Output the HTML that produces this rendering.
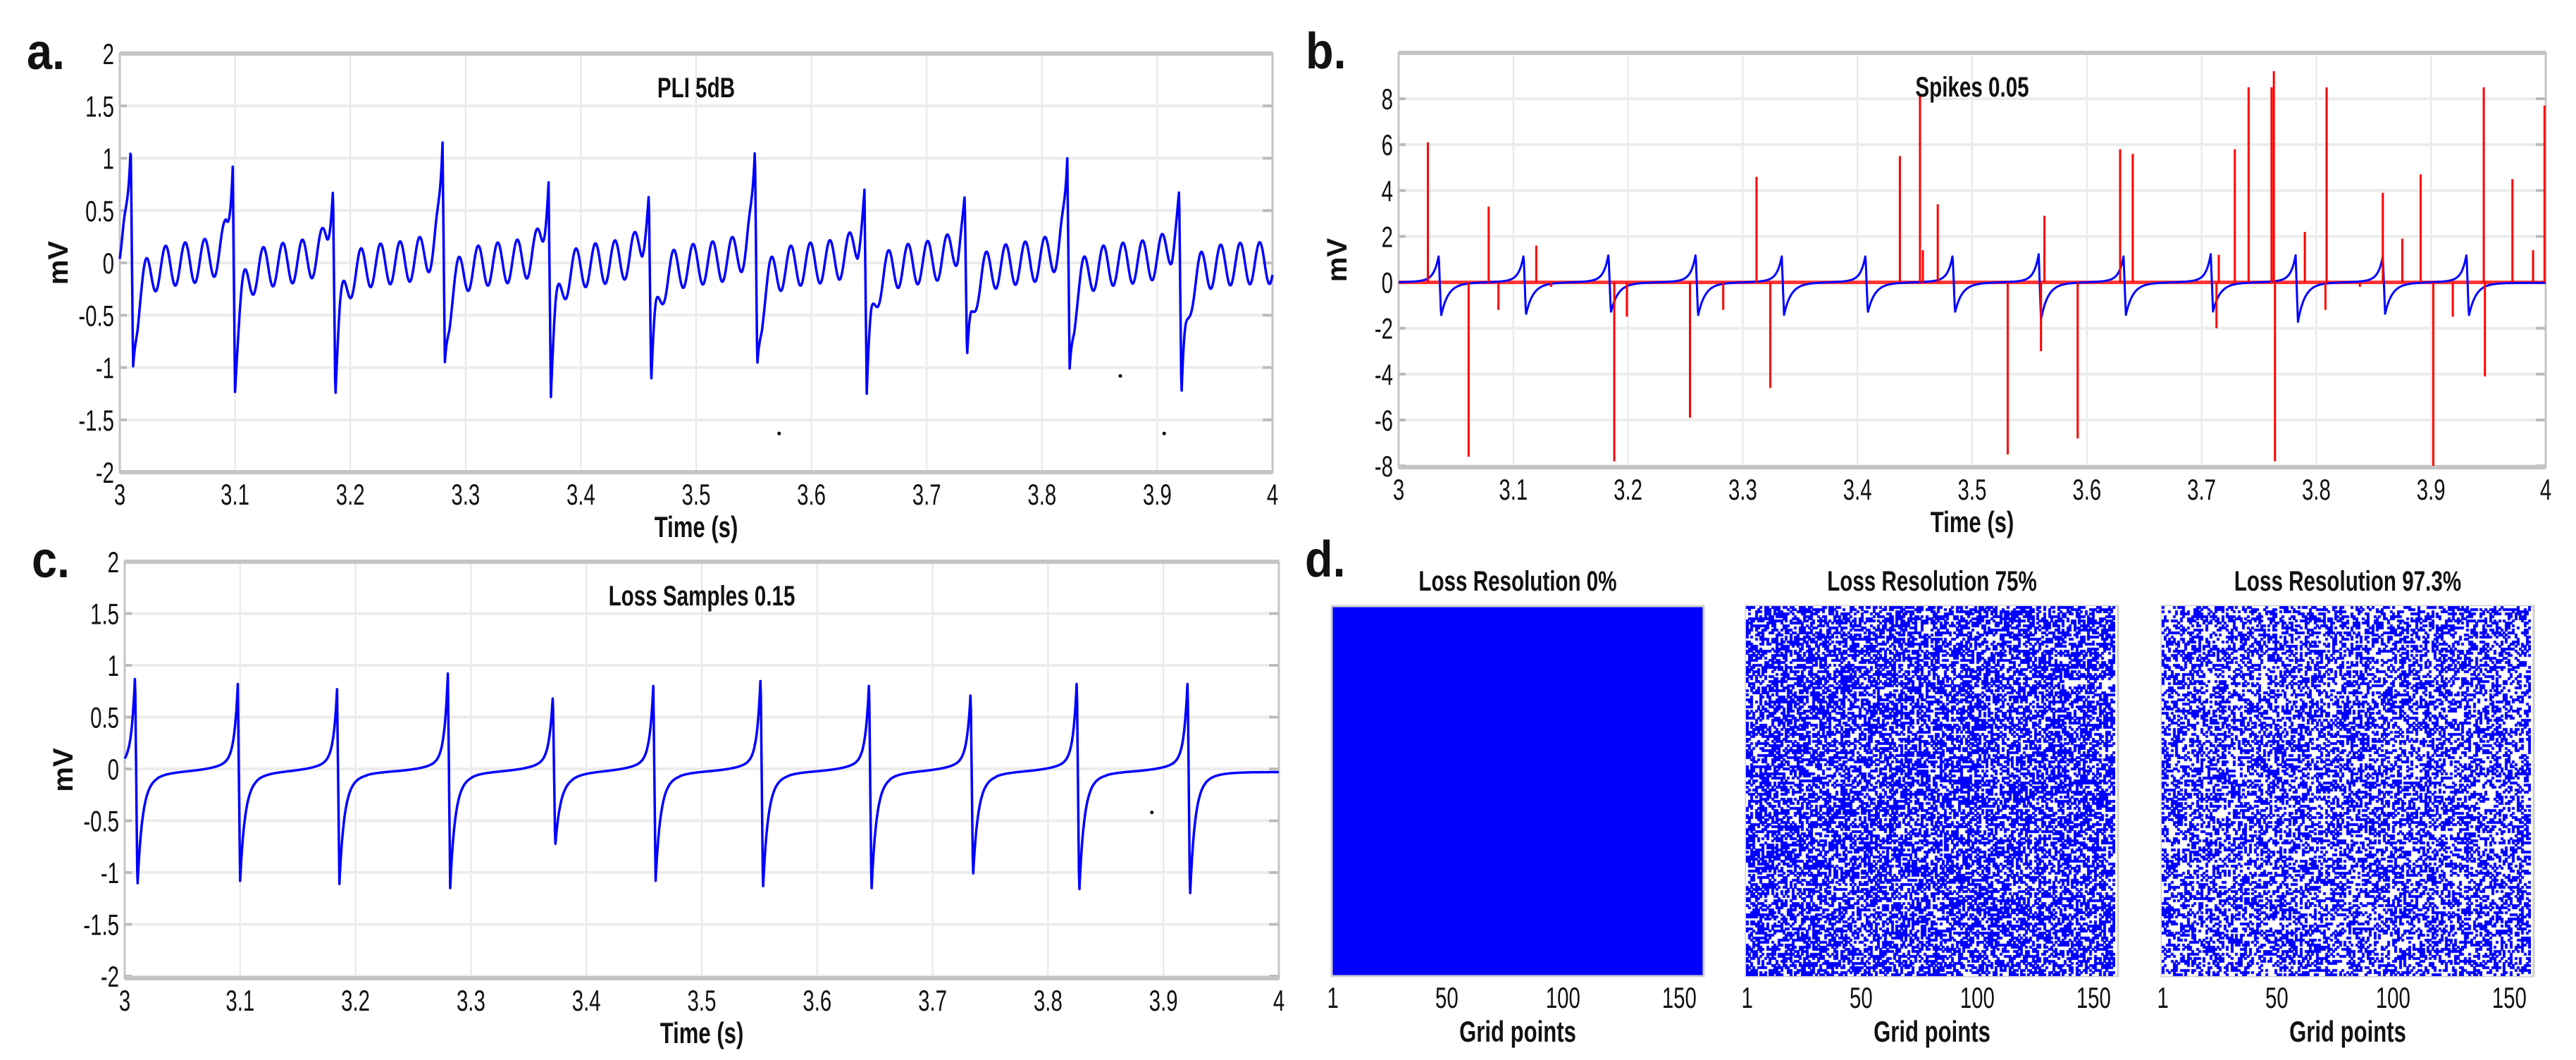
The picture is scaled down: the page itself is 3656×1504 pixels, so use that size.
<!DOCTYPE html>
<html><head><meta charset="utf-8"><style>
html,body{margin:0;padding:0;background:#fff;}
#root{position:relative;width:3656px;height:1504px;overflow:hidden;background:#fff;}
svg{position:absolute;left:0;top:0;}
canvas{position:absolute;}
</style></head><body>
<div id="root">
<svg id="sv" width="3656" height="1504" font-family="Liberation Sans, Arial, sans-serif"></svg>
<canvas id="hm2" width="524" height="525" style="left:2478px;top:860px"></canvas>
<canvas id="hm3" width="524" height="525" style="left:3068px;top:860px"></canvas>
</div>
<script>
// ---- data ----
const xTicks = [3,3.1,3.2,3.3,3.4,3.5,3.6,3.7,3.8,3.9,4];
const yTicksAC = [-2,-1.5,-1,-0.5,0,0.5,1,1.5,2];
const yTicksB = [-8,-6,-4,-2,0,2,4,6,8];
const beatsA = [3.0095,3.098,3.185,3.280,3.372,3.459,3.551,3.646,3.733,3.822,3.919];
const peaksA = [1.13,0.92,0.71,1.15,0.77,0.66,1.1,0.7,0.65,1.0,0.7];
const troughsA = [-0.97,-1.17,-1.27,-0.93,-1.27,-1.2,-0.97,-1.3,-0.97,-1.0,-1.35];
const pliAmp = 0.2, pliHz = 59;
const beatsB = [3.035,3.109,3.183,3.259,3.334,3.407,3.483,3.558,3.632,3.708,3.782,3.858,3.931];
const peaksB = [1.2,1.2,1.25,1.25,1.15,1.2,1.2,1.25,1.15,1.25,1.2,1.15,1.25];
const troughsB = [-1.45,-1.4,-1.3,-1.45,-1.4,-1.3,-1.3,-1.6,-1.4,-1.25,-1.7,-1.35,-1.45];
const spikeT = [3.0255,3.0785,3.120,3.312,3.437,3.4545,3.457,3.470,3.563,3.629,3.640,3.715,3.729,3.741,3.761,3.763,3.790,3.809,3.858,3.875,3.891,3.946,3.971,3.989,3.999,
 3.061,3.087,3.133,3.188,3.199,3.254,3.283,3.324,3.531,3.560,3.592,3.713,3.764,3.808,3.838,3.902,3.919,3.947];
const spikeV = [6.1,3.3,1.6,4.6,5.5,8.1,1.4,3.4,2.9,5.8,5.6,1.2,5.8,8.5,8.5,9.2,2.2,8.5,3.9,1.9,4.7,8.5,4.5,1.4,7.7,
 -7.6,-1.2,-0.2,-7.8,-1.5,-5.9,-1.2,-4.6,-7.5,-3.0,-6.8,-2.0,-7.8,-1.2,-0.2,-8.0,-1.5,-4.1];
const beatsC = [3.009,3.098,3.184,3.280,3.371,3.458,3.551,3.645,3.733,3.825,3.921];
const peaksC = [0.95,0.85,0.8,0.95,0.75,0.83,0.93,0.88,0.78,0.9,0.9];
const troughsC = [-1.12,-1.05,-1.08,-1.12,-0.72,-1.05,-1.15,-1.17,-1.02,-1.18,-1.22];
const gridTicks = [1,50,100,150];
const blueFraction = [1.0,0.55,0.43];
const panelTitles = ["Loss  Resolution 0%","Loss  Resolution 75%","Loss  Resolution 97.3%"];

const NS="http://www.w3.org/2000/svg";
const sv=document.getElementById('sv');
function mk(tag,attrs,parent){const e=document.createElementNS(NS,tag);for(const k in attrs)e.setAttribute(k,attrs[k]);(parent||sv).appendChild(e);return e;}
function txt(x,y,s,size,anchor,bold,name,rot,sc){
  const g=mk('g',{transform:`translate(${x},${y})`+(rot?` rotate(${rot})`:'')+` scale(${sc||0.74},1)`});
  const t=mk('text',{x:0,y:0,'font-size':size,'text-anchor':anchor||'middle','font-weight':bold?'bold':'normal',fill:'#111'},g);
  t.textContent=s;
  
  
  return t;
}
function panel(P){
  const sx=v=>P.x0+(v-P.xmin)/(P.xmax-P.xmin)*(P.x1-P.x0);
  const sy=v=>P.y1-(v-P.ymin)/(P.ymax-P.ymin)*(P.y1-P.y0);
  const g=mk('g',{});
  
  
  P.xt.forEach(v=>{mk('line',{x1:sx(v),x2:sx(v),y1:P.y0,y2:P.y1,stroke:'#e6e6e6','stroke-width':2},g);
    txt(sx(v),P.y1+46,String(v),42,'middle',false,'x-tick-label',0,0.7);});
  P.yt.forEach(v=>{mk('line',{x1:P.x0,x2:P.x1,y1:sy(v),y2:sy(v),stroke:'#ececec','stroke-width':4},g);
    mk('line',{x1:P.x1-14,x2:P.x1,y1:sy(v),y2:sy(v),stroke:'#bbb','stroke-width':4},g);
    mk('line',{x1:P.x0,x2:P.x0+10,y1:sy(v),y2:sy(v),stroke:'#bbb','stroke-width':4},g);
    txt(P.x0-8,sy(v)+15,String(v),42,'end',false,'y-tick-label',0,0.7);});
  mk('rect',{x:P.x0,y:P.y0,width:P.x1-P.x0,height:P.y1-P.y0,fill:'none',stroke:'#c4c4c4','stroke-width':3},g);
  mk('line',{x1:P.x0,x2:P.x1,y1:P.y0,y2:P.y0,stroke:'#c4c4c4','stroke-width':6},g);
  mk('line',{x1:P.x0,x2:P.x1,y1:P.y1,y2:P.y1,stroke:'#c4c4c4','stroke-width':6},g);
  txt((P.x0+P.x1)/2,P.y1+92,'Time (s)',42,'middle',true,'x-axis-title');
  txt(P.x0-74,(P.y0+P.y1)/2,'mV',40,'middle',true,'y-axis-title',-90,1);
  txt((P.x0+P.x1)/2,P.y0+62,P.title,40,'middle',true,'plot-title');
  txt(P.x0-132,P.y0+22,P.label,72,'start',true,'panel-label',0,0.9);
  return {sx,sy,g};
}
function kernelSum(t,beats,pk,tr,p){
  let v=0;
  for(let i=0;i<beats.length;i++){
    const d=t-beats[i];
    if(d<-0.07||d>0.09)continue;
    const P=pk[i]-p.sh, T=tr[i]-p.sd;
    if(d<0) v+=P*Math.exp(d/p.tr1)+p.sh*Math.exp(d/p.tr2);
    else if(d<0.002) v+=P+(T-P)*(d/0.002)+p.sh+(p.sd-p.sh)*(d/0.002);
    else v+=T*Math.exp(-(d-0.002)/p.td1)+p.sd*Math.exp(-(d-0.002)/p.td2);
  }
  return v;
}
function drawLine(A,fn,color,w,name){
  let d='';
  for(let t=3;t<=4.00001;t+=0.0004){d+=(d?'L':'M')+A.sx(t).toFixed(1)+','+A.sy(fn(t)).toFixed(1);}
  const p=mk('path',{d,fill:'none',stroke:color,'stroke-width':w,'stroke-linejoin':'round'},A.g);
  
  
}
// panel a
const A=panel({name:'panel-a-pli',x0:170,x1:1806,y0:76,y1:670,xmin:3,xmax:4,ymin:-2,ymax:2,xt:xTicks,yt:yTicksAC,title:'PLI 5dB',label:'a.'});
drawLine(A,t=>{
  let near=1; beatsA.forEach(b=>{const d=Math.abs(t-b); if(d<0.006) near=Math.min(near,d/0.006);});
  return kernelSum(t,beatsA,peaksA,troughsA,{tr1:0.003,tr2:0.012,sh:0.25,td1:0.004,td2:0.015,sd:-0.25})+near*pliAmp*Math.sin(2*Math.PI*pliHz*(t-3)-0.6);
},'#0000ff',3.5,'pli-signal');
[[3.572,-1.63],[3.868,-1.08],[3.906,-1.63]].forEach(p=>mk('circle',{cx:A.sx(p[0]),cy:A.sy(p[1]),r:2.5,fill:'#000'},A.g));
// panel b
const B=panel({name:'panel-b-spikes',x0:1985,x1:3613,y0:75,y1:663,xmin:3,xmax:4,ymin:-8.06,ymax:10,xt:xTicks,yt:yTicksB,title:'Spikes 0.05',label:'b.'});
mk('line',{x1:B.sx(3),x2:B.sx(4),y1:B.sy(0),y2:B.sy(0),stroke:'#ff3030','stroke-width':5},B.g);
drawLine(B,t=>kernelSum(t,beatsB,peaksB,troughsB,{tr1:0.004,tr2:0.02,sh:0.15,td1:0.006,td2:0.015,sd:-0.1})-0.02,'#0000ff',3,'clean-signal');
spikeT.forEach((t,i)=>{
  const l=mk('line',{x1:B.sx(t),x2:B.sx(t),y1:B.sy(0),y2:B.sy(spikeV[i]),stroke:'#ff0000','stroke-width':3},B.g);
  
  
});
// panel c
const C=panel({name:'panel-c-loss',x0:177,x1:1815,y0:797,y1:1388,xmin:3,xmax:4,ymin:-2.02,ymax:2,xt:xTicks,yt:yTicksAC,title:'Loss  Samples 0.15',label:'c.'});
drawLine(C,t=>kernelSum(t,beatsC,peaksC,troughsC,{tr1:0.003,tr2:0.018,sh:0.15,td1:0.004,td2:0.012,sd:-0.22})-0.03,'#0000ff',3.5,'loss-signal');
mk('circle',{cx:C.sx(3.89),cy:C.sy(-0.42),r:2.5,fill:'#000'},C.g);
// panel d
txt(1852,818,'d.',72,'start',true,'panel-label',0,0.9);
const hx=[1890,2478,3068];
hx.forEach((x0,k)=>{
  const w=528, y0=860, y1=1385;
  const sxg=v=>x0+(v-0.5)/160*w;
  txt(x0+w/2,838,panelTitles[k],40,'middle',true,'heatmap-title');
  gridTicks.forEach(v=>txt(sxg(v),1430,String(v),42,'middle',false,'x-tick-label',0,0.7));
  txt(x0+w/2,1478,'Grid points',42,'middle',true,'x-axis-title');
  mk('rect',{x:x0,y:y0,width:w,height:y1-y0,fill:k===0?'#0000ff':'none',stroke:'#cfcfcf','stroke-width':3});
});
// heatmaps (deterministic PRNG)
function rng(seed){let s=seed>>>0;return()=>{s=(s*1664525+1013904223)>>>0;return s/4294967296;};}
[['hm2',1,11],['hm3',2,29]].forEach(([id,k,seed])=>{
  const cv=document.getElementById(id),ctx=cv.getContext('2d');
  const r=rng(seed),n=160,cw=cv.width/n,ch=cv.height/n;
  ctx.fillStyle='#fff';ctx.fillRect(0,0,cv.width,cv.height);
  ctx.fillStyle='#0000ff';
  for(let i=0;i<n;i++)for(let j=0;j<n;j++){
    if(r()<blueFraction[k])ctx.fillRect(Math.floor(j*cw),Math.floor(i*ch),Math.ceil(cw),Math.ceil(ch));
  }
});
</script>
</body></html>
